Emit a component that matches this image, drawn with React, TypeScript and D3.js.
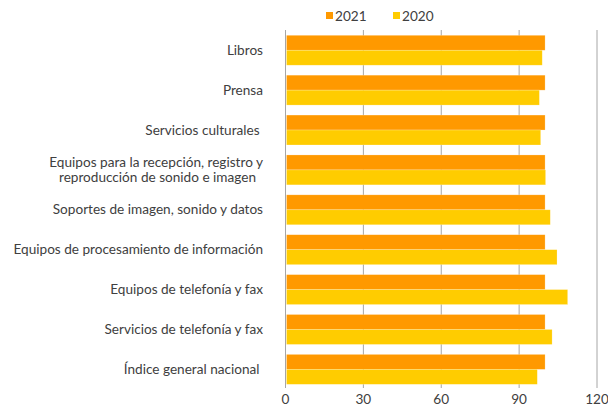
import React from "react";
import * as d3 from "d3";

const categories: string[][] = [
  ["Libros"],
  ["Prensa"],
  ["Servicios culturales "],
  ["Equipos para la recepción, registro y", "reproducción de sonido e imagen"],
  ["Soportes de imagen, sonido y datos"],
  ["Equipos de procesamiento de información"],
  ["Equipos de telefonía y fax"],
  ["Servicios de telefonía y fax"],
  ["Índice general nacional "],
];
const values2021 = [100, 100, 100, 100, 100, 100, 100, 100, 100];
const values2020 = [98.9, 97.8, 98.3, 100.2, 102.0, 104.6, 108.7, 102.7, 97.0];
const xTicks = [0, 30, 60, 90, 120];
const seriesNames = ["2021", "2020"];
const colors = ["#FF9900", "#FFCC00"];

const W = 608;
const H = 407;
const FONT = "Lato, 'Open Sans', sans-serif";
const FS = 13.6;

export default function App() {
  const x = d3.scaleLinear().domain([0, 120]).range([285.5, 597]);
  const y = d3
    .scaleBand<number>()
    .domain(d3.range(categories.length))
    .range([30.3, 389.3])
    .paddingInner(0.25)
    .paddingOuter(0.125);
  const bh = y.bandwidth() / 2;
  const series = [values2021, values2020];

  return (
    <svg
      width={W}
      height={H}
      style={{ position: "absolute", left: 0, top: 0, background: "#fff" }}
      fontFamily={FONT}
    >
      {/* legend */}
      {seriesNames.map((n, i) => (
        <g key={n} transform={`translate(${326 + i * 67},12)`}>
          <rect x={0} y={0} width={7} height={7} fill={colors[i]} />
          <text x={9} y={8.5} fontSize={FS} fill="#404040">
            {n}
          </text>
        </g>
      ))}
      {/* grid */}
      {xTicks.map((t) => (
        <line
          key={t}
          x1={x(t)}
          x2={x(t)}
          y1={30}
          y2={388}
          stroke="#a6a6a6"
          strokeWidth={1}
        />
      ))}
      {/* bars */}
      {categories.map((c, i) =>
        series.map((s, j) => (
          <rect
            key={`${i}-${j}`}
            x={x(0) + 1}
            y={(y(i) as number) + j * bh}
            width={x(s[i]) - x(0) - 1}
            height={bh}
            fill={colors[j]}
            stroke="#fff"
            strokeOpacity={0.35}
            strokeWidth={0.6}
          />
        ))
      )}
      {/* category labels */}
      {categories.map((lines, i) => {
        const cy = (y(i) as number) + y.bandwidth() / 2;
        const lh = 15;
        const start = cy - ((lines.length - 1) * lh) / 2 + 4.5;
        return (
          <text key={i} textAnchor="end" fontSize={FS} fill="#404040" style={{ whiteSpace: "pre" }}>
            {lines.map((l, k) => (
              <tspan key={k} x={lines.length > 1 && k === 1 ? 256 : 263} y={start + k * lh}>
                {l}
              </tspan>
            ))}
          </text>
        );
      })}
      {/* x tick labels */}
      {xTicks.map((t) => (
        <text
          key={t}
          x={x(t)}
          y={404}
          textAnchor="middle"
          fontSize={FS}
          fill="#404040"
        >
          {t}
        </text>
      ))}
    </svg>
  );
}
